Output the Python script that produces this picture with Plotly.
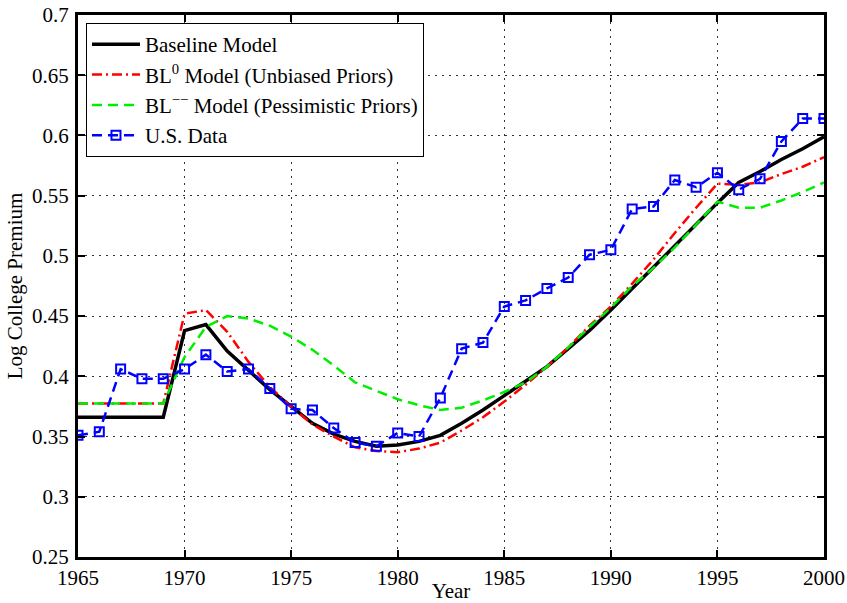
import plotly.graph_objects as go

years = list(range(1965, 2001))

baseline = [0.366, 0.366, 0.366, 0.366, 0.366, 0.438, 0.443, 0.421, 0.405, 0.389,
            0.375, 0.361, 0.352, 0.346, 0.342, 0.343, 0.346, 0.351, 0.361, 0.372,
            0.384, 0.396, 0.408, 0.423, 0.438, 0.455, 0.473, 0.490, 0.509, 0.527,
            0.544, 0.561, 0.570, 0.580, 0.589, 0.599]

bl_unbiased = [0.3775, 0.3775, 0.3775, 0.3775, 0.3775, 0.452, 0.455, 0.437, 0.412, 0.391,
               0.375, 0.360, 0.350, 0.341, 0.338, 0.337, 0.340, 0.345, 0.355, 0.366,
               0.379, 0.393, 0.408, 0.424, 0.442, 0.458, 0.477, 0.497, 0.519, 0.540,
               0.560, 0.559, 0.561, 0.568, 0.574, 0.582]

bl_pessimistic = [0.3775, 0.3775, 0.3775, 0.3775, 0.3775, 0.416, 0.441, 0.450, 0.448, 0.442,
                  0.433, 0.422, 0.409, 0.395, 0.388, 0.381, 0.376, 0.372, 0.374, 0.380,
                  0.387, 0.395, 0.408, 0.424, 0.441, 0.457, 0.475, 0.490, 0.507, 0.526,
                  0.545, 0.540, 0.540, 0.546, 0.553, 0.561]

us_data = [0.351, 0.354, 0.406, 0.398, 0.398, 0.406, 0.418, 0.404, 0.406, 0.390,
           0.373, 0.372, 0.357, 0.345, 0.342, 0.353, 0.350, 0.382, 0.423, 0.428,
           0.458, 0.463, 0.473, 0.482, 0.501, 0.505, 0.539, 0.541, 0.563, 0.557,
           0.569, 0.555, 0.564, 0.595, 0.614, 0.614]

font_name = "Liberation Serif"
fsize = 21

fig = go.Figure()
fig.add_trace(go.Scatter(x=years, y=baseline, mode='lines', name='Baseline Model',
                         line=dict(color='black', width=3.5)))
fig.add_trace(go.Scatter(x=years, y=bl_unbiased, mode='lines',
                         name='BL<sup>0</sup> Model (Unbiased Priors)',
                         line=dict(color='#ff0000', width=2.5, dash='10px,4px,2px,4px')))
fig.add_trace(go.Scatter(x=years, y=bl_pessimistic, mode='lines',
                         name='BL<sup>\u2212\u2212</sup> Model (Pessimistic Priors)',
                         line=dict(color='#00ee00', width=2.5, dash='10px,6px')))
fig.add_trace(go.Scatter(x=years, y=us_data, mode='lines+markers', name='U.S. Data',
                         line=dict(color='#0000ff', width=2.5, dash='10px,6px'),
                         marker=dict(symbol='square-open', size=9, color='#0000ff',
                                     line=dict(width=2, color='#0000ff'))))

axis_common = dict(
    showline=True, linecolor='black', linewidth=3, mirror='ticks',
    ticks='inside', ticklen=7, tickwidth=2, tickcolor='black',
    showgrid=True, gridcolor='#333333', gridwidth=1, griddash='2px,5px',
    zeroline=False, automargin=False,
    tickfont=dict(family=font_name, size=fsize, color='black'),
)

fig.update_xaxes(range=[1965, 2000], tickmode='array', tickvals=list(range(1965, 2001, 5)),
                 title=dict(text='Year', font=dict(family=font_name, size=fsize, color='black'),
                            standoff=0),
                 ticklabelstandoff=0, **axis_common)
fig.update_yaxes(range=[0.25, 0.7], tickmode='array',
                 tickvals=[0.25, 0.3, 0.35, 0.4, 0.45, 0.5, 0.55, 0.6, 0.65, 0.7],
                 ticktext=['0.25', '0.3', '0.35', '0.4', '0.45', '0.5', '0.55', '0.6', '0.65', '0.7'],
                 title=dict(text='Log College Premium',
                            font=dict(family=font_name, size=fsize, color='black'), standoff=4),
                 ticklabelstandoff=2, **axis_common)

fig.update_layout(
    width=847, height=603,
    margin=dict(l=78, r=23, t=15, b=46),
    paper_bgcolor='white', plot_bgcolor='white',
    font=dict(family=font_name, size=fsize, color='black'),
    showlegend=True,
    legend=dict(x=0.0107, y=0.985, xanchor='left', yanchor='top',
                bgcolor='white', bordercolor='black', borderwidth=1,
                font=dict(family=font_name, size=fsize, color='black'),
                tracegroupgap=0, itemwidth=48),
)

# page body has an 8px default margin, drop it so the figure sits at 0,0
fig.write_html("out.html", config={'displayModeBar': False},
               post_script="document.body.style.margin='0';")
